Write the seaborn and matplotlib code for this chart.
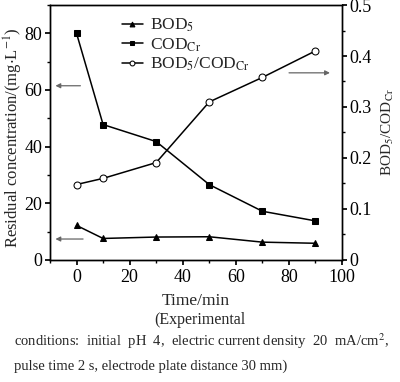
import matplotlib
matplotlib.use("Agg")
import matplotlib.pyplot as plt
import pandas as pd
import seaborn as sns
from matplotlib.ticker import MultipleLocator

time_min = [0, 10, 30, 50, 70, 90]
bod5 = [12.2, 7.6, 8.1, 8.2, 6.3, 5.9]
cod_cr = [80.0, 47.8, 41.8, 26.6, 17.2, 13.8]
ratio = [0.148, 0.160, 0.191, 0.310, 0.358, 0.410]

sns.set_theme(style="ticks")
plt.rcParams["font.family"] = ["Liberation Serif", "DejaVu Serif"]
plt.rcParams["mathtext.fontset"] = "stix"
plt.rcParams["font.size"] = 12.5

df = pd.DataFrame({"time": time_min, "bod": bod5, "cod": cod_cr, "ratio": ratio})

fig = plt.figure(figsize=(4.0, 3.82), dpi=100)
ax = fig.add_axes([0.125, 0.3194, 0.73, 0.6675])
ax2 = ax.twinx()

line_kw = dict(color="black", linewidth=1.1, markersize=5, markeredgecolor="black")
sns.lineplot(data=df, x="time", y="bod", ax=ax, marker="^", markerfacecolor="black",
             label="BOD$_5$", **line_kw)
sns.lineplot(data=df, x="time", y="cod", ax=ax, marker="s", markerfacecolor="black",
             label="COD$_{\\rm Cr}$", **line_kw)
sns.lineplot(data=df, x="time", y="ratio", ax=ax2, marker="o", markerfacecolor="white",
             label="BOD$_5$/COD$_{\\rm Cr}$", legend=False, **line_kw)

ax.set_xlim(-10, 100)
ax.set_ylim(0, 90)
ax2.set_ylim(0, 0.5)
ax.xaxis.set_major_locator(MultipleLocator(20))
ax.xaxis.set_minor_locator(MultipleLocator(10))
ax.yaxis.set_major_locator(MultipleLocator(20))
ax.yaxis.set_minor_locator(MultipleLocator(10))
ax2.yaxis.set_major_locator(MultipleLocator(0.1))
ax2.yaxis.set_minor_locator(MultipleLocator(0.05))
ax2.yaxis.set_major_formatter(plt.FuncFormatter(lambda v, p: "0" if v == 0 else f"{v:.1f}"))

for a in (ax, ax2):
    a.tick_params(which="both", direction="out", colors="black", labelsize=13, pad=2)
    a.tick_params(which="major", length=3.5)
    a.tick_params(which="minor", length=2)
    for s in a.spines.values():
        s.set_color("black")
        s.set_linewidth(1.0)
ax.tick_params(axis="x", which="both", top=False, pad=3)

ax.set_xlabel("Time/min", fontsize=12.5, labelpad=5)
ax.set_ylabel("Residual concentration/(mg$\\cdot$L$^{-1}$)", fontsize=12)
ax.yaxis.set_label_coords(-0.085, 0.48)
ax2.set_ylabel("BOD$_5$/COD$_{\\rm Cr}$", fontsize=11, labelpad=6)

h1, l1 = ax.get_legend_handles_labels()
h2, l2 = ax2.get_legend_handles_labels()
ax.legend(h1 + h2, l1 + l2, loc="upper left", bbox_to_anchor=(0.21, 0.995), frameon=False,
          fontsize=12.5, handlelength=1.2, handletextpad=0.4, labelspacing=0.12,
          borderaxespad=0.2, markerscale=0.7)

arrow_kw = dict(arrowstyle="-|>", color="#666666", lw=0.9, mutation_scale=7)
ax.annotate("", xy=(-9, 61.5), xytext=(2.5, 61.5), arrowprops=arrow_kw)
ax.annotate("", xy=(-9, 7.4), xytext=(3.5, 7.4), arrowprops=arrow_kw)
ax2.annotate("", xy=(96.5, 0.367), xytext=(79, 0.367), arrowprops=arrow_kw)

fig.text(0.5, 0.152, "(Experimental", ha="center", fontsize=11.5)
fig.text(0.035, 0.095, "conditions:  initial  pH  4,  electric current density  20  mA/cm$^2$,",
         ha="left", fontsize=10.5)
fig.text(0.035, 0.032, "pulse time 2 s, electrode plate distance 30 mm)", ha="left", fontsize=10.5)

fig.savefig("out.png", dpi=100)
